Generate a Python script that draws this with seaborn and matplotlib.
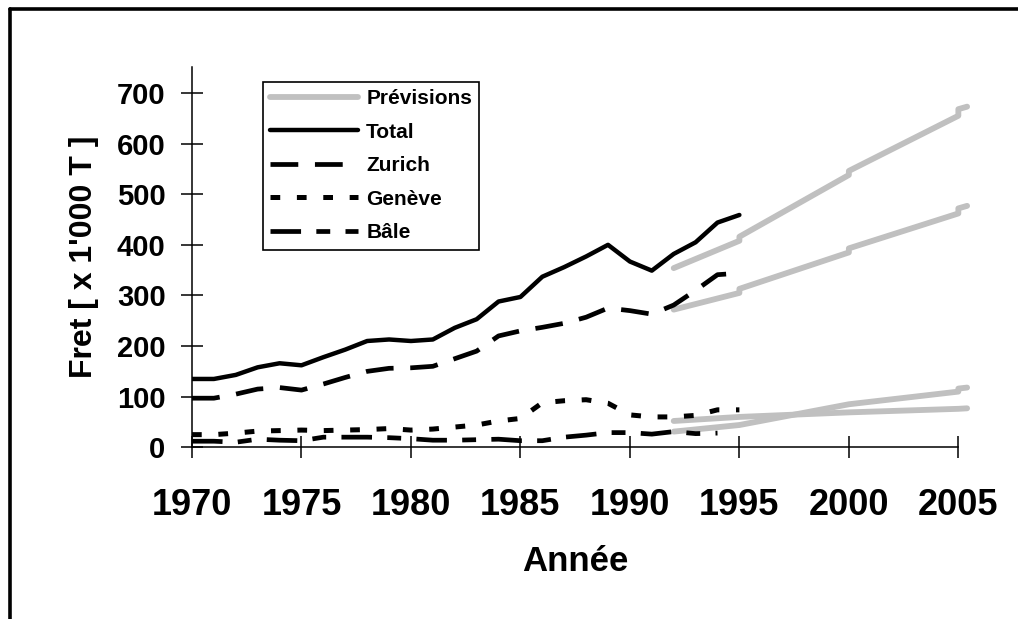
import matplotlib
matplotlib.use("Agg")
import matplotlib.pyplot as plt
from matplotlib.lines import Line2D
import numpy as np
import seaborn as sns

# Fret aérien (x 1'000 T), 1970-1995
years = list(range(1970, 1996))
total = [135, 135, 143, 158, 166, 162, 178, 193, 210, 213, 210, 213, 236,
         253, 288, 297, 337, 356, 377, 400, 367, 349, 382, 405, 444, 459]
zurich = [97, 97, 105, 115, 118, 113, 125, 138, 150, 156, 157, 160, 175,
          190, 220, 230, 237, 245, 257, 275, 270, 263, 281, 310, 341, 344]
geneve = [25, 25, 28, 32, 33, 34, 33, 34, 35, 37, 34, 36, 40,
          44, 52, 57, 88, 92, 94, 87, 64, 60, 60, 63, 74, 74]
bale = [12, 12, 10, 16, 14, 13, 20, 20, 20, 19, 17, 14, 14,
        15, 16, 13, 13, 20, 24, 29, 29, 26, 31, 27, 28, np.nan]

# Prévisions 1992-2005
prev_years = [1992, 1995, 1995, 2000, 2000, 2005, 2005, 2005.4]
prev_total = [354, 408, 416, 538, 546, 655, 668, 673]
prev_zurich = [272, 305, 313, 385, 393, 462, 472, 477]
prev_geneve = [52, 60, 60, 69, 69, 76, 76, 77]
prev_bale = [31, 44, 44, 85, 85, 110, 116, 118]

sns.set_style("white")
plt.rcParams["font.family"] = ["Liberation Sans", "DejaVu Sans"]
plt.rcParams["font.weight"] = "bold"
plt.rcParams["text.color"] = "black"
plt.rcParams["axes.labelcolor"] = "black"
plt.rcParams["xtick.color"] = "black"
plt.rcParams["ytick.color"] = "black"
plt.rcParams["lines.scale_dashes"] = False

fig = plt.figure(figsize=(10.18, 6.19), dpi=100)
ax = fig.add_axes([0.1886, 0.2774, 0.7528, 0.6149])

gray = "#c0c0c0"
for vals in [prev_total, prev_zurich, prev_geneve, prev_bale]:
    sns.lineplot(x=prev_years, y=vals, ax=ax, color=gray, linewidth=4.2,
                 estimator=None, sort=False, clip_on=False)
prev_line = ax.lines[0]

sns.lineplot(x=years, y=total, ax=ax, color="black", linewidth=3.2)
total_line = ax.lines[-1]
sns.lineplot(x=years, y=zurich, ax=ax, color="black", linewidth=3.4)
zurich_line = ax.lines[-1]
zurich_line.set_dashes((20, 12))
sns.lineplot(x=years, y=geneve, ax=ax, color="black", linewidth=3.6)
geneve_line = ax.lines[-1]
geneve_line.set_dashes((7, 12))
sns.lineplot(x=years, y=bale, ax=ax, color="black", linewidth=3.4)
bale_line = ax.lines[-1]
bale_line.set_dashes((22, 11, 10, 11))

ax.set_xlim(1970, 2005)
ax.set_ylim(0, 752)
ax.set_xticks(range(1970, 2006, 5))
ax.set_yticks(range(0, 701, 100))
ax.tick_params(bottom=True, left=True, direction="inout", length=16,
               width=1.1, color="black", labelcolor="black")
ax.tick_params(axis="x", labelsize=26, pad=21)
ax.tick_params(axis="y", labelsize=21, pad=11)
for s in ["top", "right"]:
    ax.spines[s].set_visible(False)
for s in ["left", "bottom"]:
    ax.spines[s].set_color("black")
    ax.spines[s].set_linewidth(1.1)

ax.set_xlabel("Année", fontsize=25, fontweight="bold", color="black")
ax.xaxis.set_label_coords(0.5, -0.257)
ax.set_ylabel("Fret [ x 1'000 T ]", fontsize=23, fontweight="bold", color="black")
ax.yaxis.set_label_coords(-0.122, 0.5)

leg = ax.legend([prev_line, total_line, zurich_line, geneve_line, bale_line],
                ["Prévisions", "Total", "Zurich", "Genève", "Bâle"],
                loc="upper left", bbox_to_anchor=(0.0927, 0.9606), borderaxespad=0,
                frameon=True, fancybox=False, edgecolor="black", framealpha=1,
                fontsize=15, handlelength=4.2, handletextpad=0.4,
                labelspacing=0.7, borderpad=0.35)
leg.get_frame().set_linewidth(1.2)
for t in leg.get_texts():
    t.set_color("black")

# cadre autour de la figure (gauche et haut)
fig.add_artist(Line2D([10 / 1018, 10 / 1018], [0, 1 - 8.5 / 619],
                      transform=fig.transFigure, color="black", lw=2.6))
fig.add_artist(Line2D([10 / 1018, 1], [1 - 8.5 / 619, 1 - 8.5 / 619],
                      transform=fig.transFigure, color="black", lw=2.6))

fig.savefig("out.png", dpi=100)
